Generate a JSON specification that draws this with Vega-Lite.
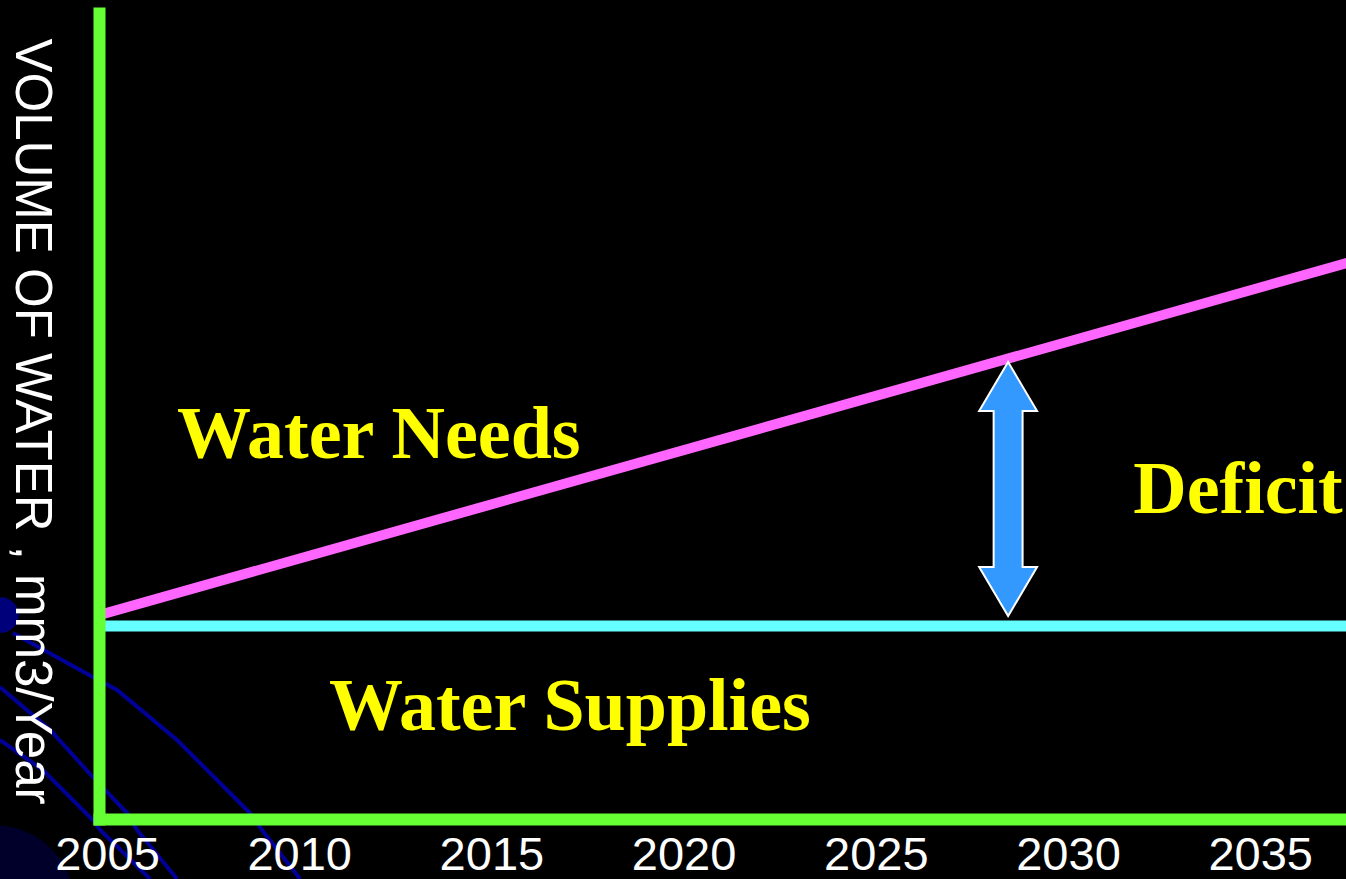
{
  "$schema": "https://vega.github.io/schema/vega-lite/v6.json",
  "width": 1247,
  "height": 806,
  "autosize": {"type": "none"},
  "padding": {"left": 99, "top": 13, "right": 0, "bottom": 60},
  "background": "#000000",
  "config": {"view": {"stroke": null}},
  "datasets": {
    "glow": [{"year": 2002.29, "value": -10.67}],
    "deco": [
      {"curve": "c1", "year": 2002.76, "value": 23.08},
      {"curve": "c1", "year": 2004.84, "value": 17.62},
      {"curve": "c1", "year": 2005.47, "value": 16.0},
      {"curve": "c1", "year": 2007.03, "value": 9.8},
      {"curve": "c1", "year": 2008.59, "value": 2.36},
      {"curve": "c1", "year": 2008.93, "value": 0.74},
      {"curve": "c1", "year": 2009.24, "value": -1.36},
      {"curve": "c1", "year": 2010.23, "value": -7.44},
      {"curve": "c2", "year": 2002.42, "value": 16.38},
      {"curve": "c2", "year": 2003.73, "value": 11.04},
      {"curve": "c2", "year": 2004.84, "value": 5.21},
      {"curve": "c2", "year": 2005.73, "value": 0.74},
      {"curve": "c2", "year": 2005.99, "value": -1.36},
      {"curve": "c2", "year": 2007.03, "value": -7.44},
      {"curve": "c3", "year": 2002.42, "value": 9.8},
      {"curve": "c3", "year": 2003.54, "value": 6.08},
      {"curve": "c3", "year": 2004.84, "value": -0.12},
      {"curve": "c3", "year": 2005.03, "value": -1.36},
      {"curve": "c3", "year": 2006.33, "value": -7.44}
    ],
    "blob": [{"year": 2002.45, "value": 25.3}],
    "series": [
      {"series": "Water Supplies", "year": 2005, "value": 23.95},
      {"series": "Water Supplies", "year": 2040, "value": 23.95},
      {"series": "Water Needs", "year": 2005, "value": 25.3},
      {"series": "Water Needs", "year": 2040, "value": 72.4}
    ],
    "arrow": [{"year": 2028.65, "value": 40.94}],
    "labels": [
      {"label": "Water Needs", "year": 2012.28, "value": 44.79},
      {"label": "Deficit", "year": 2034.63, "value": 37.97},
      {"label": "Water Supplies", "year": 2017.25, "value": 11.04}
    ]
  },
  "encoding": {
    "x": {
      "field": "year",
      "type": "quantitative",
      "scale": {"domain": [2005, 2037.44], "nice": false, "zero": false},
      "axis": {
        "values": [2005, 2010, 2015, 2020, 2025, 2030, 2035],
        "format": "d",
        "title": null,
        "grid": false,
        "ticks": false,
        "tickSize": 0,
        "labelColor": "#FFFFFF",
        "labelFont": "Liberation Sans",
        "labelFontSize": 47,
        "labelBaseline": "alphabetic",
        "labelPadding": 50,
        "labelOffset": 8,
        "labelFlush": false,
        "labelOverlap": false,
        "labelBound": false,
        "domainColor": "#66FF33",
        "domainWidth": 12,
        "domainCap": "square",
        "zindex": 1
      }
    },
    "y": {
      "field": "value",
      "type": "quantitative",
      "scale": {"domain": [0, 100], "nice": false, "zero": false},
      "axis": {
        "title": "VOLUME OF WATER , mm3/Year",
        "titleAngle": 90,
        "titleColor": "#FFFFFF",
        "titleFont": "Liberation Sans",
        "titleFontSize": 51,
        "titleFontWeight": "normal",
        "titleX": -84,
        "titleY": 408,
        "titleAlign": "center",
        "titleBaseline": "alphabetic",
        "labels": false,
        "ticks": false,
        "grid": false,
        "domainColor": "#66FF33",
        "domainWidth": 12,
        "domainCap": "square",
        "zindex": 1
      }
    }
  },
  "layer": [
    {
      "data": {"name": "glow"},
      "mark": {"type": "point", "shape": "circle", "filled": true, "color": "#00002A", "opacity": 1, "size": 25447, "clip": false},
      "encoding": {}
    },
    {
      "data": {"name": "deco"},
      "mark": {"type": "line", "color": "#000099", "strokeWidth": 4, "clip": false},
      "encoding": {"detail": {"field": "curve"}}
    },
    {
      "data": {"name": "blob"},
      "mark": {"type": "point", "shape": "circle", "filled": true, "color": "#00007A", "opacity": 1, "size": 1257, "clip": false},
      "encoding": {}
    },
    {
      "data": {"name": "series"},
      "mark": {"type": "line", "strokeCap": "butt"},
      "encoding": {
        "color": {
          "field": "series",
          "type": "nominal",
          "scale": {"domain": ["Water Supplies", "Water Needs"], "range": ["#66FFFF", "#FF66FF"]},
          "legend": null
        },
        "strokeWidth": {
          "field": "series",
          "type": "nominal",
          "scale": {"domain": ["Water Supplies", "Water Needs"], "range": [11, 10]},
          "legend": null
        }
      }
    },
    {
      "data": {"name": "arrow"},
      "mark": {
        "type": "point",
        "shape": "M0,-1 L0.228,-0.614 L0.114,-0.614 L0.114,0.614 L0.228,0.614 L0,1 L-0.228,0.614 L-0.114,0.614 L-0.114,-0.614 L-0.228,-0.614 Z",
        "size": 64516,
        "filled": true,
        "fill": "#3399FF",
        "stroke": "#FFFFFF",
        "strokeWidth": 2,
        "opacity": 1
      },
      "encoding": {}
    },
    {
      "data": {"name": "labels"},
      "mark": {
        "type": "text",
        "font": "Liberation Serif",
        "fontWeight": "bold",
        "fontSize": 74,
        "color": "#FFFF00",
        "align": "center",
        "baseline": "alphabetic",
        "clip": false
      },
      "encoding": {"text": {"field": "label"}}
    }
  ]
}
